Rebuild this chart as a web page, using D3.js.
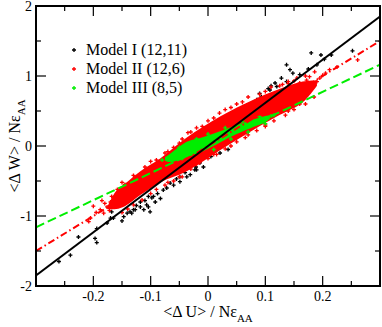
<!DOCTYPE html>
<html>
<head>
<meta charset="utf-8">
<script src="https://cdn.jsdelivr.net/npm/d3@7"></script>
<style>
  body { margin: 0; background: #fff; }
  text { font-family: "Liberation Serif", "DejaVu Serif", serif; fill: #000; }
</style>
</head>
<body>
<div id="chart"></div>
<script>
    // axis ticks
    const xTicks = [-0.2, -0.1, 0, 0.1, 0.2];
    const xMinor = [-0.25, -0.15, -0.05, 0.05, 0.15, 0.25];
    const yTicks = [-2, -1, 0, 1, 2];
    const yMinor = [-1.5, -0.5, 0.5, 1.5];

    // legend
    const seriesNames = ["Model I (12,11)", "Model II (12,6)", "Model III (8,5)"];
    const seriesColors = ["#000000", "#ff0000", "#00ee00"];

    // fitted slopes, <dW> = slope * <dU>
    const fitSlopes = [6.17, 5.0, 3.87];
    const fitDash = ["none", "7,3,1.5,3", "9,4"];

    // Model I scattered points (dU, dW)
    const blackU = [0.252, 0.215, 0.197, 0.18, 0.203, 0.19, 0.175, 0.137, 0.148, 0.143, 0.128, 0.117, 0.108, 0.105, 0.099, 0.09,
        0.087, 0.085, 0.076, 0.082, 0.093, 0.073, 0.061, 0.056, 0.05, 0.044, 0.038, 0.032, 0.047, 0.021, 0.003, -0.002,
        -0.014, -0.008, -0.022, -0.04, -0.049, 0.12, 0.137, 0.16, 0.11, 0.065, 0.027, 0.015,
        -0.26, -0.24, -0.226, -0.197, -0.194, -0.194, -0.176, -0.17, -0.165, -0.168, -0.15, -0.147, -0.141, -0.136, -0.133,
        -0.13, -0.127, -0.118, -0.118, -0.112, -0.107, -0.104, -0.104, -0.101, -0.098, -0.095, -0.092, -0.083, -0.078,
        -0.072, -0.066, -0.06, -0.049, -0.049, -0.037, -0.031, -0.023, -0.02, -0.008, -0.014, -0.021, 0.005, 0.021, 0.035,
        -0.088, -0.11, -0.125, -0.055, -0.04];
    const blackW = [1.36, 1.30, 1.30, 1.33, 1.24, 1.16, 1.10, 1.16, 1.04, 1.09, 0.97, 0.90, 0.80, 0.82, 0.70, 0.75,
        0.66, 0.66, 0.59, 0.63, 0.70, 0.59, 0.56, 0.51, 0.51, 0.47, 0.40, 0.40, 0.42, 0.28, 0.23, 0.20,
        0.18, 0.16, 0.04, 0.01, -0.06, 0.85, 0.92, 1.02, 0.86, 0.50, 0.33, 0.25,
        -1.65, -1.56, -1.30, -1.32, -1.38, -1.18, -1.10, -1.03, -1.03, -0.94, -1.07, -1.01, -0.96, -0.94, -0.96,
        -0.91, -0.91, -0.87, -0.80, -0.91, -0.84, -0.87, -0.72, -0.94, -0.74, -0.72, -0.80, -0.75, -0.63,
        -0.60, -0.53, -0.56, -0.51, -0.44, -0.44, -0.41, -0.34, -0.34, -0.30, -0.24, -0.30, -0.15, -0.10, -0.05,
        -0.68, -0.78, -0.85, -0.47, -0.38];

    // Model II dense band and scattered points
    const redBandU = [-0.175, -0.16, -0.145, -0.118, -0.0835, -0.037, 0.021, 0.079, 0.12, 0.165, 0.19];
    const redBandHi = [-0.86, -0.64, -0.54, -0.36, -0.18, 0.12, 0.42, 0.66, 0.80, 0.92, 0.94];
    const redBandLo = [-0.90, -0.90, -0.86, -0.70, -0.52, -0.36, -0.06, 0.23, 0.42, 0.62, 0.86];
    const redU = [-0.208, -0.205, -0.188, -0.182, -0.176, -0.168, -0.165, -0.162, -0.153, -0.141, -0.136, -0.17, -0.158,
        -0.145, -0.13, -0.12, -0.195, -0.18, -0.2, -0.185, -0.172,
        0.186, 0.2, 0.212, 0.261, 0.172, 0.177, 0.16, 0.166, 0.19, 0.182, 0.15, 0.14, 0.225, 0.195, 0.205,
        -0.1, -0.07, -0.05, -0.03, -0.01, 0.01, 0.04, 0.06, 0.1, 0.13,
        -0.14, -0.1, -0.07, -0.05, -0.02, 0.01, 0.04, 0.07, 0.1, 0.14, 0.16,
        -0.15, -0.13, -0.11, -0.09, -0.075, -0.06, -0.045, -0.035, -0.02, 0.0, 0.02, 0.03, 0.05, 0.07, 0.09, 0.11,
        0.125, 0.14, 0.155, 0.17,
        -0.15, -0.13, -0.115, -0.09, -0.075, -0.06, -0.045, -0.03, -0.015, 0.0, 0.015, 0.03, 0.05, 0.065, 0.085, 0.1,
        0.115, 0.135, 0.15, 0.17, 0.185];
    const redW = [-1.08, -1.03, -0.91, -0.96, -0.87, -0.72, -0.84, -0.77, -0.68, -0.65, -0.58, -0.80, -0.62,
        -0.55, -0.48, -0.42, -0.95, -0.82, -0.86, -0.78, -0.92,
        1.06, 1.01, 1.09, 1.23, 0.94, 0.99, 0.90, 0.82, 0.92, 0.88, 0.93, 0.89, 1.13, 0.97, 1.04,
        -0.22, -0.08, 0.04, 0.20, 0.28, 0.40, 0.55, 0.63, 0.78, 0.88,
        -0.90, -0.68, -0.52, -0.44, -0.26, -0.12, 0.00, 0.16, 0.30, 0.50, 0.60,
        -0.52, -0.42, -0.30, -0.20, -0.10, -0.02, 0.10, 0.19, 0.26, 0.36, 0.47, 0.52, 0.60, 0.70, 0.74, 0.84,
        0.86, 0.92, 0.97, 1.00,
        -0.95, -0.84, -0.77, -0.62, -0.56, -0.50, -0.44, -0.33, -0.24, -0.18, -0.12, -0.04, 0.06, 0.12, 0.22, 0.28,
        0.36, 0.44, 0.52, 0.60, 0.70];

    // Model III dense band and scattered points
    const greenBandU = [-0.075, -0.066, -0.037, -0.008, 0.021, 0.05, 0.079, 0.1, 0.108];
    const greenBandHi = [-0.16, -0.11, 0.06, 0.13, 0.21, 0.30, 0.38, 0.43, 0.44];
    const greenBandLo = [-0.21, -0.23, -0.16, -0.07, 0.05, 0.17, 0.27, 0.34, 0.39];
    const greenU = [-0.08, -0.07, -0.05, -0.045, -0.02, 0.0, 0.01, 0.03, 0.04, 0.06, 0.07, 0.09, 0.1, 0.11, 0.115];
    const greenW = [-0.20, -0.17, -0.02, -0.18, 0.10, 0.17, -0.05, 0.26, 0.10, 0.35, 0.20, 0.42, 0.32, 0.43, 0.44];

    const w = 382;
    const h = 327;
    const m = { left: 36, right: 380, top: 6, bottom: 286 };

    const xScale = d3.scaleLinear().domain([-0.3, 0.3]).range([m.left, m.right]);
    const yScale = d3.scaleLinear().domain([-2, 2]).range([m.bottom, m.top]);

    const svg = d3.select("#chart")
        .append("svg")
        .attr("width", w)
        .attr("height", h);

    svg.append("clipPath").attr("id", "plot")
        .append("rect")
        .attr("x", m.left).attr("y", m.top)
        .attr("width", m.right - m.left).attr("height", m.bottom - m.top);

    const plot = svg.append("g").attr("clip-path", "url(#plot)");

    const cross = d3.symbol(d3.symbolCross).size(9);

    function drawPoints(us, ws, color) {
        plot.append("g")
            .selectAll("path")
            .data(us.map((u, i) => [u, ws[i]]))
            .enter()
            .append("path")
            .attr("d", cross)
            .attr("transform", d => `translate(${xScale(d[0])},${yScale(d[1])})`)
            .attr("fill", color);
    }

    function drawBand(us, hi, lo, color) {
        const area = d3.area()
            .curve(d3.curveCatmullRom)
            .x((d, i) => xScale(us[i]))
            .y0((d, i) => yScale(lo[i]))
            .y1((d, i) => yScale(hi[i]));
        plot.append("path")
            .attr("d", area(us))
            .attr("fill", color);
    }

    drawPoints(blackU, blackW, seriesColors[0]);
    drawBand(redBandU, redBandHi, redBandLo, seriesColors[1]);
    drawPoints(redU, redW, seriesColors[1]);
    drawBand(greenBandU, greenBandHi, greenBandLo, seriesColors[2]);
    drawPoints(greenU, greenW, seriesColors[2]);

    // fit lines, green first so black ends up on top
    [2, 1, 0].forEach(i => {
        plot.append("line")
            .attr("x1", xScale(-0.3)).attr("y1", yScale(-0.3 * fitSlopes[i]))
            .attr("x2", xScale(0.3)).attr("y2", yScale(0.3 * fitSlopes[i]))
            .attr("stroke", seriesColors[i])
            .attr("stroke-width", 2)
            .attr("stroke-dasharray", fitDash[i]);
    });

    // inward ticks on all four sides
    const axes = svg.append("g").attr("stroke", "#000").attr("stroke-width", 1.2);
    function xTickMarks(vals, len) {
        vals.forEach(v => {
            axes.append("line").attr("x1", xScale(v)).attr("x2", xScale(v))
                .attr("y1", m.bottom).attr("y2", m.bottom - len);
            axes.append("line").attr("x1", xScale(v)).attr("x2", xScale(v))
                .attr("y1", m.top).attr("y2", m.top + len);
        });
    }
    function yTickMarks(vals, len) {
        vals.forEach(v => {
            axes.append("line").attr("y1", yScale(v)).attr("y2", yScale(v))
                .attr("x1", m.left).attr("x2", m.left + len);
            axes.append("line").attr("y1", yScale(v)).attr("y2", yScale(v))
                .attr("x1", m.right).attr("x2", m.right - len);
        });
    }
    xTickMarks(xTicks, 10);
    xTickMarks(xMinor, 5);
    yTickMarks(yTicks, 10);
    yTickMarks(yMinor, 5);

    svg.append("rect")
        .attr("x", m.left).attr("y", m.top)
        .attr("width", m.right - m.left).attr("height", m.bottom - m.top)
        .attr("fill", "none")
        .attr("stroke", "#000")
        .attr("stroke-width", 2);

    svg.selectAll(".xlab")
        .data(xTicks)
        .enter()
        .append("text")
        .attr("class", "xlab")
        .attr("x", d => xScale(d))
        .attr("y", 301)
        .attr("text-anchor", "middle")
        .style("font-size", "14px")
        .text(d => d === 0 ? "0" : String(d));

    svg.selectAll(".ylab")
        .data(yTicks)
        .enter()
        .append("text")
        .attr("class", "ylab")
        .attr("x", 32)
        .attr("y", d => yScale(d) + 5)
        .attr("text-anchor", "end")
        .style("font-size", "14px")
        .text(d => String(d));

    // axis titles
    const xt = svg.append("text")
        .attr("x", 208).attr("y", 316.5)
        .attr("text-anchor", "middle")
        .style("font-size", "16px");
    xt.append("tspan").text("<\u0394 U> / N\u03b5");
    xt.append("tspan").attr("dy", 5).style("font-size", "11px").text("AA");

    const yt = svg.append("text")
        .attr("transform", "translate(20,146) rotate(-90)")
        .attr("text-anchor", "middle")
        .style("font-size", "16px");
    yt.append("tspan").text("<\u0394 W> / N\u03b5");
    yt.append("tspan").attr("dy", 5).style("font-size", "11px").text("AA");

    // legend
    const legend = svg.append("g");
    seriesNames.forEach((name, i) => {
        const yb = 54.5 + i * 19;
        legend.append("path")
            .attr("d", cross)
            .attr("transform", `translate(74,${yb - 4.5})`)
            .attr("fill", seriesColors[i]);
        legend.append("text")
            .attr("x", 86).attr("y", yb)
            .style("font-size", "16px")
            .text(name);
    });
</script>
</body>
</html>
